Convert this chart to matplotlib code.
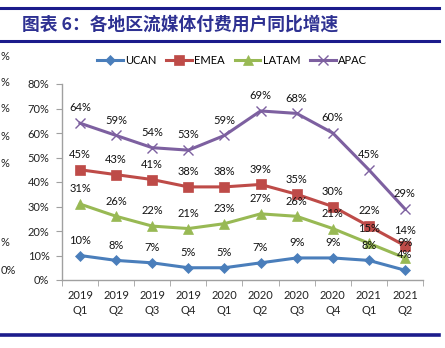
import matplotlib
matplotlib.use("Agg")
import matplotlib.pyplot as plt
from matplotlib.lines import Line2D
import numpy as np

plt.rcParams['font.family'] = ['Lato', 'DejaVu Sans']

# quarterly YoY growth of paid streaming subscribers, %
quarters = ['2019\nQ1', '2019\nQ2', '2019\nQ3', '2019\nQ4', '2020\nQ1',
            '2020\nQ2', '2020\nQ3', '2020\nQ4', '2021\nQ1', '2021\nQ2']
ucan = [10, 8, 7, 5, 5, 7, 9, 9, 8, 4]
emea = [45, 43, 41, 38, 38, 39, 35, 30, 22, 14]
latam = [31, 26, 22, 21, 23, 27, 26, 21, 15, 9]
apac = [64, 59, 54, 53, 59, 69, 68, 60, 45, 29]

series = [
    ('UCAN', ucan, '#4A7EBB', 'D', 5.5),
    ('EMEA', emea, '#BE4B48', 's', 6.5),
    ('LATAM', latam, '#98B954', '^', 7),
    ('APAC', apac, '#7D60A0', 'x', 6.5),
]

W, H = 445, 348
fig = plt.figure(figsize=(W / 100, H / 100), dpi=100)

# header bars and title
navy = '#1C1C8C'
for y, lw in [(7.5, 2.2), (41, 2.2), (335, 2.6)]:
    fig.add_artist(Line2D([0, 439 / W], [1 - y / H, 1 - y / H], color=navy, lw=lw))
fig.text(22 / W, 1 - 25 / H, '图表 6：各地区流媒体付费用户同比增速',
         family=['Noto Sans CJK SC', 'DejaVu Sans'], fontsize=12.8,
         fontweight='bold', color='#2E3192', va='center', ha='left')

# stray percent marks along the left edge
for y, s in [(56, '%'), (83, '%'), (109, '%'), (136, '%'), (163, '%'),
             (243, '%'), (270, '0%')]:
    fig.text(0.5 / W, 1 - y / H, s, fontsize=8, color='#222222',
             ha='left', va='center')

ax = fig.add_axes([62 / W, 1 - 280 / H, 361 / W, 196 / H])
x = np.arange(len(quarters))

for name, vals, color, marker, ms in series:
    ax.plot(x, vals, color=color, lw=2.2, marker=marker, markersize=ms,
            markeredgewidth=1.0 if marker == 'x' else 0.5,
            markeredgecolor=color, label=name, clip_on=False, zorder=3)
    for xi, v in zip(x, vals):
        ax.annotate(f'{v}%', (xi, v), xytext=(0, 7), textcoords='offset points',
                    ha='center', va='bottom', fontsize=8, color='#111111',
                    zorder=4)

ax.set_xlim(-0.5, len(quarters) - 0.5)
ax.set_ylim(0, 80)
ax.set_yticks(np.arange(0, 81, 10))
ax.set_yticklabels([f'{t}%' for t in range(0, 81, 10)])
ax.set_xticks(x)
ax.set_xticklabels(quarters, linespacing=1.5)
ax.set_xticks(np.arange(-0.5, len(quarters)), minor=True)
ax.tick_params(axis='x', which='major', length=0, labelsize=8, pad=7,
               labelcolor='#222222')
ax.tick_params(axis='x', which='minor', length=4, color='#A0A0A0')
ax.tick_params(axis='y', length=4, color='#A0A0A0', labelsize=8,
               labelcolor='#222222', pad=5)
for s in ['top', 'right']:
    ax.spines[s].set_visible(False)
for s in ['left', 'bottom']:
    ax.spines[s].set_color('#A0A0A0')
    ax.spines[s].set_linewidth(1.0)

fig.legend(loc='center', bbox_to_anchor=(232 / W, 1 - 60 / H), ncol=4,
           frameon=False, fontsize=8, handlelength=2.3, handletextpad=0.2,
           columnspacing=0.9)

fig.savefig('out.png', dpi=100)
